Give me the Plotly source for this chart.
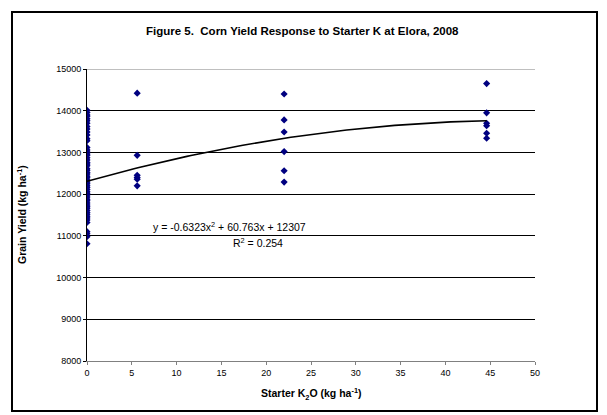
import plotly.graph_objects as go

# ---- data ----
rate_0 = [0.0] * 56
yield_0 = [14010, 13960, 13900, 13870, 13810, 13760, 13700, 13620, 13560, 13490,
           13420, 13330, 13280, 13120, 13060, 13010, 12960, 12930, 12870, 12820,
           12760, 12720, 12680, 12610, 12570, 12520, 12480, 12430, 12390, 12340,
           12290, 12250, 12200, 12160, 12110, 12060, 12020, 11980, 11930, 11880,
           11840, 11790, 11740, 11700, 11660, 11610, 11560, 11520, 11470, 11430,
           11380, 11320, 11100, 11050, 10980, 10810]
rate_a = [5.6] * 6
yield_a = [14420, 12930, 12450, 12400, 12360, 12200]
rate_b = [22.0] * 6
yield_b = [14400, 13780, 13490, 13020, 12560, 12290]
rate_c = [44.6] * 6
yield_c = [14650, 13950, 13700, 13640, 13460, 13340]

x_data = rate_0 + rate_a + rate_b + rate_c
y_data = yield_0 + yield_a + yield_b + yield_c

# trendline coefficients shown on the chart
coef_a, coef_b, coef_c = -0.6323, 60.763, 12307
trend_x = [i * 44.6 / 100 for i in range(101)]
trend_y = [coef_a * x * x + coef_b * x + coef_c for x in trend_x]

x_ticks = list(range(0, 51, 5))
y_ticks = list(range(8000, 15001, 1000))

title_text = "Figure 5.  Corn Yield Response to Starter K at Elora, 2008"
x_title = "Starter K<sub>2</sub>O (kg ha<sup>-1</sup>)"
y_title = "Grain Yield (kg ha<sup>-1</sup>)"
eq_text = "y = -0.6323x<sup>2</sup> + 60.763x + 12307"
r2_text = "R<sup>2</sup> = 0.254"

FONT = "Liberation Sans, Arial, sans-serif"
W, H = 607, 415
L, R, T, B = 87, 535, 69, 361

def px(xp):
    return (xp - L) / (R - L)

def py(yp):
    return (B - yp) / (B - T)

fig = go.Figure()
fig.add_trace(go.Scatter(x=x_data, y=y_data, mode="markers",
                         marker=dict(symbol="diamond", size=5.5, color="#000080",
                                     line=dict(width=0)),
                         showlegend=False, hoverinfo="skip"))
fig.add_trace(go.Scatter(x=trend_x, y=trend_y, mode="lines",
                         line=dict(color="black", width=1.6),
                         showlegend=False, hoverinfo="skip"))

fig.update_layout(
    width=W, height=H,
    margin=dict(l=L, r=W - R, t=T, b=H - B, pad=0),
    paper_bgcolor="white", plot_bgcolor="white",
    font=dict(family=FONT, size=9, color="black"),
    hovermode=False,
    xaxis=dict(range=[0, 50], tickvals=x_ticks, ticktext=[str(t) for t in x_ticks],
               showgrid=False, zeroline=False, showline=True, linecolor="#808080",
               linewidth=1, ticks="outside", ticklen=3, tickcolor="#808080",
               tickfont=dict(size=9, family=FONT, color="black"), fixedrange=True),
    yaxis=dict(range=[8000, 15000], tickvals=y_ticks, ticktext=[str(t) for t in y_ticks],
               showgrid=True, gridcolor="black", gridwidth=1, zeroline=False,
               showline=True, linecolor="black", linewidth=1, ticks="outside",
               ticklen=3, tickcolor="black",
               tickfont=dict(size=9, family=FONT, color="black"), fixedrange=True),
)

# top gridline at the upper end of the range
fig.add_shape(type="line", xref="paper", yref="y", x0=0, x1=1,
              y0=y_ticks[-1], y1=y_ticks[-1], line=dict(color="#808080", width=1))

# outer chart border
fig.add_shape(type="rect", xref="paper", yref="paper",
              x0=px(12), x1=px(597), y0=py(411), y1=py(12),
              line=dict(color="black", width=2), fillcolor="rgba(0,0,0,0)", layer="below")

annos = [
    dict(text="<b>" + title_text + "</b>", x=px(302), y=py(31), size=11.5),
    dict(text="<b>" + x_title + "</b>", x=px(311), y=py(394), size=10.5),
    dict(text="<b>" + y_title + "</b>", x=px(21), y=py(215), size=10.5, angle=-90),
    dict(text=eq_text, x=px(229), y=py(227), size=10.5),
    dict(text=r2_text, x=px(258), y=py(243), size=10.5),
]
for a in annos:
    fig.add_annotation(text=a["text"], x=a["x"], y=a["y"], xref="paper", yref="paper",
                       showarrow=False, xanchor="center", yanchor="middle",
                       textangle=a.get("angle", 0),
                       font=dict(family=FONT, size=a["size"], color="#000000"))

fig.write_html("out.html",
               config={"displayModeBar": False, "staticPlot": True},
               post_script="document.body.style.margin='0';document.body.style.overflow='hidden';")
